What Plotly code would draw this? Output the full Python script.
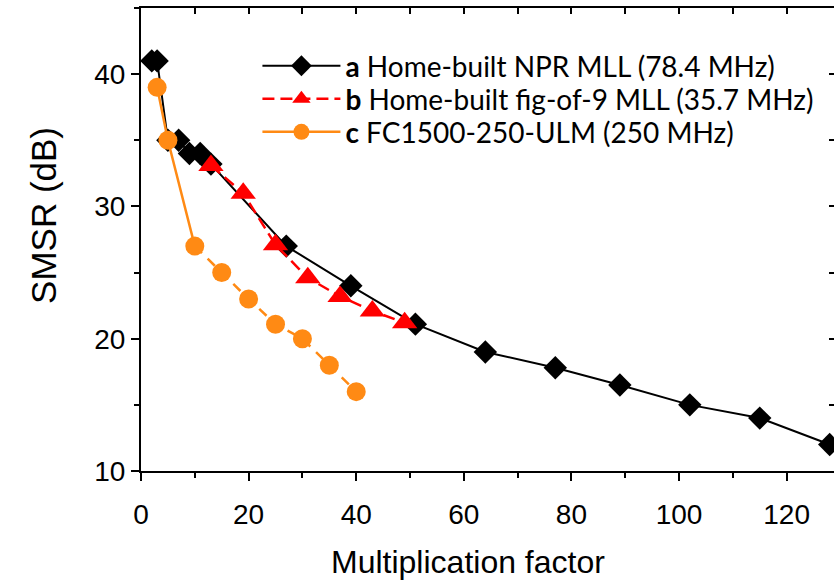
import plotly.graph_objects as go

# ---- data ----
a_x = [2, 3, 5, 7, 9, 11, 13, 27, 39, 51, 64, 77, 89, 102, 115, 128]
a_y = [41, 41, 35, 35, 34, 34, 33.2, 27, 24, 21.1, 19, 17.8, 16.5, 15, 14, 12]

b_x = [13, 19, 25, 31, 37, 43, 49]
b_y = [33.1, 31, 27.1, 24.6, 23.2, 22.1, 21.2]

c_x = [3, 5, 10, 15, 20, 25, 30, 35, 40]
c_y = [39, 35, 27, 25, 23, 21.1, 20, 18, 16]
c_solid_n = 3  # first segments drawn solid, rest dashed

names = ["<b>a</b> Home-built NPR MLL (78.4 MHz)",
         "<b>b</b> Home-built fig-of-9 MLL (35.7 MHz)",
         "<b>c</b> FC1500-250-ULM (250 MHz)"]

x_range = [0, 128.8]
y_range = [10, 45]

BLACK = "#000000"
RED = "#FF0000"
ORANGE = "#FF8A14"

fig = go.Figure()

fig.add_trace(go.Scatter(
    x=a_x, y=a_y, name=names[0], mode="lines+markers", legend="legend",
    line=dict(color=BLACK, width=2),
    marker=dict(symbol="diamond", size=18, color=BLACK),
))
fig.add_trace(go.Scatter(
    x=b_x, y=b_y, name=names[1], mode="lines+markers", legend="legend2",
    line=dict(color=RED, width=2.5, dash="12px,6px"),
    marker=dict(symbol="triangle-up", size=22, color=RED),
))
# orange dashed tail (line only)
fig.add_trace(go.Scatter(
    x=c_x[c_solid_n - 1:], y=c_y[c_solid_n - 1:], mode="lines",
    line=dict(color=ORANGE, width=2.5, dash="10px,8px"), showlegend=False,
    hoverinfo="skip",
))
# orange solid head with markers (legend entry)
fig.add_trace(go.Scatter(
    x=c_x[:c_solid_n], y=c_y[:c_solid_n], name=names[2], mode="lines+markers",
    legend="legend3",
    line=dict(color=ORANGE, width=2.5),
    marker=dict(symbol="circle", size=19, color=ORANGE),
))
# orange remaining markers
fig.add_trace(go.Scatter(
    x=c_x[c_solid_n:], y=c_y[c_solid_n:], mode="markers", showlegend=False,
    marker=dict(symbol="circle", size=19, color=ORANGE),
))
# dummy trace to activate the mirrored frame axes
fig.add_trace(go.Scatter(
    x=[None], y=[None], xaxis="x2", yaxis="y2", showlegend=False, hoverinfo="skip",
))

sans = "Liberation Sans, Arial, sans-serif"
legfont = dict(family="Lato, Carlito, sans-serif", size=28, color="black")


def leg(y):
    return dict(x=0.168, y=y, xanchor="left", yanchor="middle", font=legfont,
                bgcolor="rgba(0,0,0,0)", itemwidth=78)


fig.update_layout(
    width=834, height=583,
    margin=dict(l=141, r=0, t=8, b=112),
    paper_bgcolor="white", plot_bgcolor="white",
    showlegend=True,
    legend=leg(0.8746),
    legend2=leg(0.8033),
    legend3=leg(0.732),
    xaxis=dict(
        range=x_range, showgrid=False, zeroline=False, automargin=False,
        showline=True, linecolor="black", linewidth=2,
        ticks="outside", ticklen=8, tickwidth=2, tickcolor="black",
        dtick=20, tick0=0, tickfont=dict(family=sans, size=28, color="black"),
        ticklabelstandoff=9,
        minor=dict(ticks="outside", ticklen=5, tickwidth=2, tickcolor="black", dtick=10, showgrid=False),
    ),
    yaxis=dict(
        range=y_range, showgrid=False, zeroline=False, automargin=False,
        showline=True, linecolor="black", linewidth=2,
        ticks="outside", ticklen=8, tickwidth=2, tickcolor="black",
        dtick=10, tick0=0, tickfont=dict(family=sans, size=28, color="black"),
        minor=dict(ticks="outside", ticklen=5, tickwidth=2, tickcolor="black", dtick=5, showgrid=False),
    ),
    xaxis2=dict(
        overlaying="x", side="top", range=x_range, automargin=False,
        showgrid=False, zeroline=False, showline=True, linecolor="black", linewidth=2,
        ticks="inside", ticklen=6, tickwidth=2, tickcolor="black", dtick=10, tick0=0,
        showticklabels=False,
    ),
    yaxis2=dict(
        overlaying="y", side="right", range=y_range, automargin=False,
        showgrid=False, zeroline=False, showline=False,
        ticks="inside", ticklen=5, tickwidth=2, tickcolor="black", dtick=5, tick0=0,
        showticklabels=False,
    ),
    annotations=[
        dict(text="Multiplication factor", xref="paper", yref="paper",
             x=0.472, y=-0.1965, xanchor="center", yanchor="middle", showarrow=False,
             font=dict(family=sans, size=32, color="black")),
        dict(text="SMSR (dB)", xref="paper", yref="paper", textangle=-90,
             x=-0.14, y=0.553, xanchor="center", yanchor="middle", showarrow=False,
             font=dict(family=sans, size=35, color="black")),
    ],
)

fig.write_html(
    "out.html",
    config={"displayModeBar": False},
    post_script="document.body.style.margin='0';document.body.style.overflow='hidden';",
)
